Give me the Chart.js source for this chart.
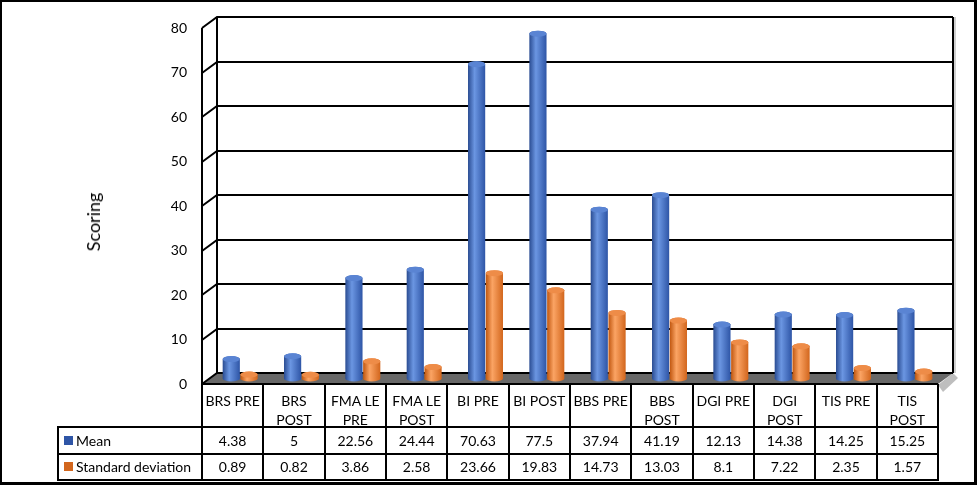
<!DOCTYPE html>
<html><head><meta charset="utf-8">
<script src="https://cdn.jsdelivr.net/npm/chart.js@4.4.0/dist/chart.umd.min.js"></script>
<style>
html,body{margin:0;padding:0;background:#fff;}
#wrap{position:relative;width:977px;height:485px;overflow:hidden;background:#fff;font-family:Lato,'Noto Sans',sans-serif;color:#000;}
#c{position:absolute;left:0;top:0;}
#frame{position:absolute;left:0;top:0;width:977px;height:485px;box-sizing:border-box;border-style:solid;border-color:#000;border-width:2px 3px 3px 2px;pointer-events:none;}
#title{position:absolute;left:93px;top:222px;transform:translate(-50%,-50%) rotate(-90deg);font-size:18px;white-space:nowrap;}
.ln{position:absolute;background:#000;}
.txt{position:absolute;text-align:center;font-size:14px;white-space:pre-line;box-sizing:border-box;}
.key{position:absolute;width:9px;height:9px;}
</style></head><body>
<div id="wrap"><canvas id="c" width="977" height="485"></canvas><div id="title">Scoring</div><div id="tbl"></div><div id="frame"></div></div>
<script>
const categories = ["BRS PRE","BRS\nPOST","FMA LE\nPRE","FMA LE\nPOST","BI PRE","BI POST","BBS PRE","BBS\nPOST","DGI PRE","DGI\nPOST","TIS PRE","TIS\nPOST"];
const meanValues = [4.38, 5, 22.56, 24.44, 70.63, 77.5, 37.94, 41.19, 12.13, 14.38, 14.25, 15.25];
const sdValues = [0.89, 0.82, 3.86, 2.58, 23.66, 19.83, 14.73, 13.03, 8.1, 7.22, 2.35, 1.57];
const seriesNames = ["Mean","Standard deviation"];
const yTicks = [0,10,20,30,40,50,60,70,80];

const DX = 15, DY = -11; // 3D depth offset
const palette = [
  {edge:'#2a4c92', light:'#6b96e2', edge2:'#2e55a6', top:'#5a84d3'},
  {edge:'#c0560f', light:'#fba464', edge2:'#d2661d', top:'#ee8c48'}
];

function cylinder(ctx, x, top, base, w, c){
  const rx = w/2 - 0.3, ry = 3;
  const g = ctx.createLinearGradient(x-rx,0,x+rx,0);
  g.addColorStop(0,c.edge); g.addColorStop(0.38,c.light); g.addColorStop(1,c.edge2);
  ctx.beginPath();
  ctx.moveTo(x-rx, top);
  ctx.lineTo(x-rx, base);
  ctx.ellipse(x, base, rx, ry, 0, Math.PI, 0, true);
  ctx.lineTo(x+rx, top);
  ctx.ellipse(x, top, rx, ry, 0, 0, Math.PI, true);
  ctx.closePath();
  ctx.fillStyle = g; ctx.fill();
  ctx.beginPath();
  ctx.ellipse(x, top, rx, ry, 0, 0, Math.PI*2);
  ctx.fillStyle = c.top; ctx.fill();
}

const threeD = {
  id:'threeD',
  beforeDatasetsDraw(chart){
    const ctx = chart.ctx, ca = chart.chartArea, y = chart.scales.y;
    const L = ca.left, R = ca.right, B = ca.bottom;
    ctx.save();
    // right shadow
    ctx.fillStyle = 'rgba(120,120,120,0.35)';
    ctx.fillRect(R+DX+1, y.getPixelForValue(80)+DY, 2, B-y.getPixelForValue(80));
    ctx.beginPath();
    ctx.moveTo(R, B+1); ctx.lineTo(R+DX, B+DY); ctx.lineTo(R+DX+5, B+DY+5); ctx.lineTo(R+5, B+8); ctx.closePath();
    ctx.fillStyle = 'rgba(110,110,110,0.45)'; ctx.fill();
    // floor
    ctx.beginPath();
    ctx.moveTo(L, B); ctx.lineTo(R, B); ctx.lineTo(R+DX, B+DY); ctx.lineTo(L+DX, B+DY); ctx.closePath();
    ctx.fillStyle = '#686868'; ctx.fill();
    ctx.strokeStyle = '#000'; ctx.lineWidth = 2;
    yTicks.forEach(v => {
      const p = Math.round(y.getPixelForValue(v));
      ctx.beginPath();
      ctx.moveTo(L, p); ctx.lineTo(L+DX, p+DY); ctx.lineTo(R+DX, p+DY);
      ctx.stroke();
    });
    const t = Math.round(y.getPixelForValue(80)), b = Math.round(y.getPixelForValue(0));
    ctx.beginPath();
    ctx.moveTo(L, t); ctx.lineTo(L, b);
    ctx.moveTo(L+DX, t+DY); ctx.lineTo(L+DX, b+DY);
    ctx.moveTo(R+DX, t+DY); ctx.lineTo(R+DX, b+DY);
    ctx.moveTo(L, b); ctx.lineTo(R, b);
    ctx.stroke();
    ctx.restore();
  },
  afterDatasetsDraw(chart){
    const ctx = chart.ctx;
    ctx.save();
    ctx.translate(DX/2, DY/2);
    const n = chart.data.labels.length;
    for (let i=0;i<n;i++){
      chart.data.datasets.forEach((ds,di) => {
        const el = chart.getDatasetMeta(di).data[i];
        cylinder(ctx, el.x, el.y, el.base, el.width, palette[di]);
      });
    }
    ctx.restore();
  }
};

const chart = new Chart(document.getElementById('c'), {
  type:'bar',
  data:{labels:categories, datasets:[
    {label:seriesNames[0], data:meanValues, backgroundColor:'rgba(0,0,0,0)', borderWidth:0},
    {label:seriesNames[1], data:sdValues, backgroundColor:'rgba(0,0,0,0)', borderWidth:0}
  ]},
  options:{
    responsive:false, animation:false, devicePixelRatio:1,
    layout:{padding:{top:28,right:39,bottom:101,left:0}},
    plugins:{legend:{display:false}, tooltip:{enabled:false}},
    datasets:{bar:{categoryPercentage:0.58, barPercentage:1}},
    scales:{
      x:{display:false},
      y:{min:0,max:80,
        ticks:{stepSize:10,padding:15,color:'#000',font:{family:'Lato',size:14}},
        grid:{display:false,drawTicks:false}, border:{display:false},
        afterFit(s){ s.width = 202; }
      }
    }
  },
  plugins:[threeD]
});

// data table (category labels + values) aligned to the x scale
(function(){
  const tbl = document.getElementById('tbl');
  const ca = chart.chartArea;
  const n = categories.length;
  const colW = (ca.right - ca.left)/n;
  const hTop = ca.bottom, r1 = hTop+43, r2 = r1+27, r3 = r2+26, stubL = 58;
  function line(x,y,w,h){const d=document.createElement('div');d.className='ln';d.style.cssText=`left:${x}px;top:${y}px;width:${w}px;height:${h}px`;tbl.appendChild(d);}
  function text(x,y,w,h,s,extra){const d=document.createElement('div');d.className='txt';d.style.cssText=`left:${x}px;top:${y}px;width:${w}px;height:${h}px;`+(extra||'');d.textContent=s;tbl.appendChild(d);}
  for(let i=0;i<=n;i++){ const x = Math.round(ca.left + i*colW) - 1; line(x, hTop, 2, r3-hTop+1); }
  line(stubL-1, r1-1, 2, r3-r1+2);
  [r1, r2, r3].forEach(yy => line(stubL-1, yy-1, Math.round(ca.right)-stubL+2, 2));
  for(let i=0;i<n;i++){
    const x = ca.left + i*colW;
    text(x, hTop+1, colW, r1-hTop, categories[i], 'padding-top:6px;line-height:19px;');
    text(x, r1, colW, r2-r1, String(meanValues[i]), `line-height:${r2-r1}px;`);
    text(x, r2, colW, r3-r2, String(sdValues[i]), `line-height:${r3-r2}px;`);
  }
  const rows=[[r1,r2],[r2,r3]];
  rows.forEach((r,k)=>{
    const key=document.createElement('div');key.className='key';
    key.style.cssText=`left:64px;top:${Math.round((r[0]+r[1])/2)-5}px;background:${palette[k].edge2};`;
    tbl.appendChild(key);
    text(76, r[0], 130, r[1]-r[0], seriesNames[k], `text-align:left;line-height:${r[1]-r[0]}px;`);
  });
})();
</script>
</body></html>
